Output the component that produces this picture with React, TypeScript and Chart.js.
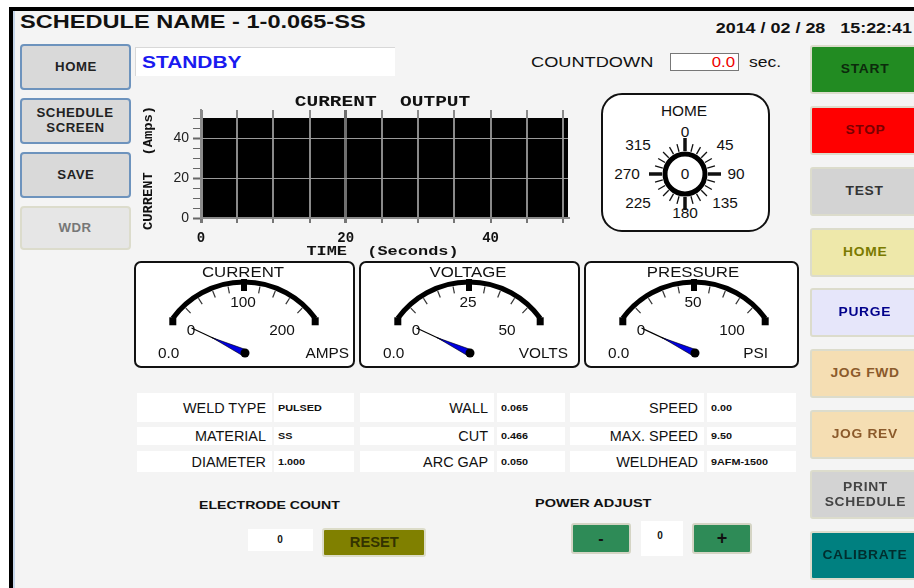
import React, { useEffect, useRef } from 'react';
import { Chart, registerables } from 'chart.js';

Chart.register(...registerables);

// ---------- chart data ----------
const chartTitle = 'CURRENT  OUTPUT';
const xAxisTitle = 'TIME  (Seconds)';
const yAxisTitle = 'CURRENT  (Amps)';
const timeMin = 0;
const timeMax = 50.7;
const currentMin = 0;
const currentMax = 54;
const currentPanelMax = 50;
const tickStep = 5;
const timeLabelTicks = [0, 20, 40];
const currentLabelTicks = [0, 20, 40];
const timeSeconds: number[] = [];
const currentAmps: number[] = [];

// ---------- gauges ----------
const gaugeNames = ['CURRENT', 'VOLTAGE', 'PRESSURE'];
const gaugeUnits = ['AMPS', 'VOLTS', 'PSI'];
const gaugeMax = [200, 50, 100];
const gaugeValues = [0, 0, 0];
const dialLabels = [0, 45, 90, 135, 180, 225, 270, 315];
const dialValue = 0;

// ---------- info table ----------
const infoLabels = ['WELD TYPE', 'MATERIAL', 'DIAMETER', 'WALL', 'CUT', 'ARC GAP', 'SPEED', 'MAX. SPEED', 'WELDHEAD'];
const infoValues = ['PULSED', 'SS', '1.000', '0.065', '0.466', '0.050', '0.00', '9.50', '9AFM-1500'];

const leftButtons = ['HOME', 'SCHEDULE\nSCREEN', 'SAVE', 'WDR'];
const rightButtons = ['START', 'STOP', 'TEST', 'HOME', 'PURGE', 'JOG FWD', 'JOG REV', 'PRINT\nSCHEDULE', 'CALIBRATE'];

const SANS = '"Liberation Sans", Arial, sans-serif';
const MONO = '"Liberation Mono", "Courier New", monospace';

type TP = {
  x: number; y: number; text: string; size: number; bold?: boolean; color?: string;
  sx?: number; align?: 'left' | 'center' | 'right'; family?: string;
};
function T({ x, y, text, size, bold, color = '#111', sx = 1, align = 'left', family = SANS }: TP) {
  const tx = align === 'left' ? '0' : align === 'center' ? '-50%' : '-100%';
  const origin = align === 'left' ? 'left center' : align === 'center' ? 'center center' : 'right center';
  return (
    <span
      style={{
        position: 'absolute', left: x, top: y, whiteSpace: 'pre', fontFamily: family, fontSize: size,
        fontWeight: bold ? 700 : 400, color, lineHeight: 1,
        transform: `translate(${tx}, -50%) scaleX(${sx})`, transformOrigin: origin,
      }}
    >
      {text}
    </span>
  );
}

function Box({ l, t, w, h, style = {}, children }: any) {
  return (
    <div style={{ position: 'absolute', left: l, top: t, width: w, height: h, boxSizing: 'border-box', ...style }}>
      {children}
    </div>
  );
}

function Btn({ l, t, w, h, bg, border, color, text, size = 12, sx = 1.2, radius = 3, ls = 0 }: any) {
  const lines = String(text).split('\n');
  return (
    <Box
      l={l} t={t} w={w} h={h}
      style={{
        background: bg, border: `2px solid ${border}`, borderRadius: radius,
        display: 'flex', alignItems: 'center', justifyContent: 'center', flexDirection: 'column',
      }}
    >
      {lines.map((ln, i) => (
        <span
          key={i}
          style={{
            fontFamily: SANS, fontWeight: 700, fontSize: size, color, lineHeight: 1.25, letterSpacing: ls,
            whiteSpace: 'pre', transform: `scaleX(${sx})`, display: 'block',
          }}
        >
          {ln}
        </span>
      ))}
    </Box>
  );
}

function drawStretched(ctx: CanvasRenderingContext2D, text: string, x: number, y: number, rot: number, sx: number, font: string) {
  ctx.save();
  ctx.translate(x, y);
  ctx.rotate(rot);
  ctx.scale(sx, 1);
  ctx.font = font;
  ctx.fillStyle = '#111';
  ctx.textAlign = 'center';
  ctx.textBaseline = 'middle';
  ctx.fillText(text, 0, 0);
  ctx.restore();
}

function CurrentChart() {
  const ref = useRef<HTMLCanvasElement>(null);
  useEffect(() => {
    const canvas = ref.current;
    if (!canvas) return;
    const blackPanel = {
      id: 'blackPanel',
      beforeDraw(chart: any) {
        const { ctx, chartArea: a, scales } = chart;
        const top = scales.y.getPixelForValue(currentPanelMax);
        const bottom = scales.y.getPixelForValue(currentMin);
        ctx.save();
        ctx.fillStyle = '#000';
        ctx.fillRect(a.left, top, a.right - a.left, bottom - top);
        ctx.restore();
      },
    };
    const stretchedTitles = {
      id: 'stretchedTitles',
      afterDraw(chart: any) {
        const { ctx, chartArea: a } = chart;
        const cx = (a.left + a.right) / 2 - 2;
        drawStretched(ctx, chartTitle, cx, 14, 0, 1.3, `bold 15px ${MONO}`);
        drawStretched(ctx, xAxisTitle, cx, 164, 0, 1.3, `bold 13px ${MONO}`);
        drawStretched(ctx, yAxisTitle, 15, 80, -Math.PI / 2, 1.15, `bold 12px ${MONO}`);
      },
    };
    const chart = new Chart(canvas, {
      type: 'line',
      data: {
        datasets: [
          {
            label: 'Current',
            data: timeSeconds.map((t, i) => ({ x: t, y: currentAmps[i] })),
            borderColor: '#00ff00',
            borderWidth: 2,
            pointRadius: 0,
          },
        ],
      },
      options: {
        responsive: false,
        animation: false,
        devicePixelRatio: 1,
        layout: { padding: { top: 22, right: 2, left: 0, bottom: 0 } },
        plugins: { legend: { display: false }, tooltip: { enabled: false }, title: { display: false } },
        scales: {
          x: {
            type: 'linear',
            min: timeMin,
            max: timeMax,
            afterFit: (s: any) => { s.height = 44; },
            ticks: {
              stepSize: tickStep,
              includeBounds: false,
              autoSkip: false,
              maxRotation: 0,
              padding: 7,
              color: '#111',
              font: { family: MONO, size: 14, weight: 'bold' },
              callback: (v: any) => (timeLabelTicks.includes(Number(v)) ? String(v) : ''),
            },
            grid: {
              color: (c: any) => (c.tick && c.tick.value === 20 ? '#6f6f6f' : '#8a8a8a'),
              lineWidth: (c: any) => (c.tick && (c.tick.value === 20 || c.tick.value === 0) ? 3 : 2),
              tickLength: 5,
              tickColor: '#777',
            },
            border: { display: true, color: '#8a8a8a', width: 2 },
          },
          y: {
            type: 'linear',
            min: currentMin,
            max: currentMax,
            afterFit: (s: any) => { s.width = 67; },
            ticks: {
              stepSize: tickStep,
              includeBounds: false,
              autoSkip: false,
              padding: 4,
              color: '#222',
              font: { family: SANS, size: 14 },
              callback: (v: any) => (currentLabelTicks.includes(Number(v)) ? String(v) : ''),
            },
            grid: {
              color: (c: any) => {
                const v = c.tick ? c.tick.value : -1;
                if (v === 20 || v === 40) return '#9a9a9a';
                if (v === 0) return '#8a8a8a';
                return 'rgba(0,0,0,0)';
              },
              lineWidth: 1,
              tickLength: 8,
              tickColor: '#666',
              tickWidth: (c: any) => (c.tick && currentLabelTicks.includes(c.tick.value) ? 2 : 1),
            },
            border: { display: true, color: '#8a8a8a', width: 2 },
          },
        },
      },
      plugins: [blackPanel, stretchedTitles],
    } as any);
    return () => chart.destroy();
  }, []);
  return (
    <canvas
      ref={ref}
      width={436}
      height={174}
      style={{ position: 'absolute', left: 134, top: 88, width: 436, height: 174 }}
    />
  );
}

function Gauge({ left, width, idx, unitRight }: any) {
  const cx = 110, cy = 109, r = 88;
  const pt = (deg: number, rad: number) => {
    const a = (deg * Math.PI) / 180;
    return [cx + rad * Math.sin(a), cy - rad * Math.cos(a)];
  };
  const [lx, ly] = pt(-54, r);
  const [rx, ry] = pt(54, r);
  const ticks = [];
  for (let i = -4; i <= 4; i++) {
    if (i === 0) continue;
    const [x1, y1] = pt(i * 10.8, r - 3);
    const [x2, y2] = pt(i * 10.8, r - 10);
    ticks.push(<line key={i} x1={x1} y1={y1} x2={x2} y2={y2} stroke="#333" strokeWidth={1.2} />);
  }
  const max = gaugeMax[idx];
  const v = gaugeValues[idx];
  const hx = 111, hy = 92, L = 59;
  const th = ((-65 + (130 * v) / max) * Math.PI) / 180;
  const tipX = hx + L * Math.sin(th), tipY = hy - L * Math.cos(th);
  const ux = Math.sin(th), uy = -Math.cos(th);
  const midX = hx + L * 0.62 * ux, midY = hy + L * 0.62 * uy;
  const px = -uy, py = ux;
  const needle = `${midX},${midY} ${hx + 3.5 * px},${hy + 3.5 * py} ${hx - 3.5 * px},${hy - 3.5 * py}`;
  const txt = (s: string, x: number, y: number, size: number, sx: number, anchor = 'middle') => (
    <text
      transform={`translate(${x},${y}) scale(${sx},1)`}
      textAnchor={anchor as any}
      dominantBaseline="central"
      fontFamily={SANS}
      fontSize={size}
      fill="#111"
    >
      {s}
    </text>
  );
  return (
    <svg style={{ position: 'absolute', left, top: 261 }} width={width} height={107}>
      <rect x={1} y={1} width={width - 2} height={105} rx={6} fill="#fff" stroke="#111" strokeWidth={2} />
      {txt(gaugeNames[idx], 109, 11, 15, 1.12)}
      <path d={`M ${lx} ${ly} A ${r} ${r} 0 0 1 ${rx} ${ry}`} fill="none" stroke="#000" strokeWidth={5} />
      <rect x={lx - 3.5} y={ly - 1} width={7} height={8} fill="#000" />
      <rect x={rx - 3.5} y={ry - 1} width={7} height={8} fill="#000" />
      <rect x={cx - 3} y={cy - r - 3} width={6} height={12} fill="#000" />
      {ticks}
      {txt(String(max / 2), 109, 41, 14, 1.1)}
      {txt('0', 57, 69, 14, 1.1)}
      {txt(String(max), 148, 69, 14, 1.1)}
      {txt(v.toFixed(1), 24, 92, 14, 1.1, 'start')}
      {txt(gaugeUnits[idx], unitRight, 92, 14, 1.1, 'end')}
      <line x1={tipX} y1={tipY} x2={hx} y2={hy} stroke="#000" strokeWidth={1.2} />
      <polygon points={needle} fill="#0000e0" stroke="#000" strokeWidth={0.6} />
      <circle cx={hx} cy={hy} r={4.5} fill="#000" />
    </svg>
  );
}

function Dial() {
  const cx = 84, cy = 81;
  const pt = (deg: number, rad: number) => {
    const a = (deg * Math.PI) / 180;
    return [cx + rad * Math.sin(a), cy - rad * Math.cos(a)];
  };
  const ticks = [];
  for (let d = 0; d < 360; d += 15) {
    const major = d % 90 === 0;
    const [x1, y1] = pt(d, 23);
    const [x2, y2] = pt(d, major ? 36 : 31);
    ticks.push(<line key={d} x1={x1} y1={y1} x2={x2} y2={y2} stroke="#111" strokeWidth={major ? 3.5 : 1.3} />);
  }
  const labelPos: Record<number, [number, number]> = {
    0: [84, 39], 45: [124, 52], 90: [135, 81], 135: [124, 110],
    180: [84, 120], 225: [37, 110], 270: [26, 81], 315: [37, 52],
  };
  const txt = (s: string, x: number, y: number) => (
    <text
      key={s + x}
      transform={`translate(${x},${y}) scale(1.1,1)`}
      textAnchor="middle"
      dominantBaseline="central"
      fontFamily={SANS}
      fontSize={14}
      fill="#111"
    >
      {s}
    </text>
  );
  return (
    <svg style={{ position: 'absolute', left: 601, top: 93 }} width={169} height={139}>
      <rect x={1} y={1} width={167} height={137} rx={20} fill="#fff" stroke="#111" strokeWidth={2} />
      {txt('HOME', 83, 18)}
      {ticks}
      <circle cx={cx} cy={cy} r={20} fill="#fff" stroke="#000" strokeWidth={5} />
      {txt(String(dialValue), cx, cy)}
      {dialLabels.map((d) => txt(String(d), labelPos[d][0], labelPos[d][1]))}
    </svg>
  );
}

export default function App() {
  const rowTops = [393, 427, 451];
  const rowHeights = [29, 18, 21];
  const cols = [
    { lx: 137, lw: 135, vx: 274, vw: 80 },
    { lx: 360, lw: 134, vx: 497, vw: 68 },
    { lx: 570, lw: 134, vx: 707, vw: 89 },
  ];
  const leftTops = [44, 98, 152, 206];
  const rightTops = [45, 106, 167, 228, 288, 349, 410, 470, 531];
  const rightStyles = [
    ['#228b22', '#0c2a0c'], ['#ff0000', '#7a0000'], ['#d3d3d3', '#333'], ['#eee8aa', '#7a7a00'],
    ['#e6e6fa', '#00008b'], ['#f5deb3', '#8b5a2b'], ['#f5deb3', '#8b5a2b'], ['#d3d3d3', '#444'], ['#008080', '#002e2e'],
  ];
  return (
    <div style={{ position: 'absolute', left: 0, top: 0, width: 914, height: 588, overflow: 'hidden', background: '#fff' }}>
      <Box l={9} t={7} w={905} h={4} style={{ background: '#000' }} />
      <Box l={9} t={7} w={4} h={581} style={{ background: '#000' }} />
      <Box l={13} t={11} w={2} h={577} style={{ background: '#c6d6ea' }} />
      <Box l={15} t={11} w={899} h={577} style={{ background: '#f4f4f4' }} />

      <T x={20} y={21} text="SCHEDULE NAME - 1-0.065-SS" size={19} bold sx={1.24} />
      <T x={912} y={28} text="2014 / 02 / 28   15:22:41" size={14} bold sx={1.28} align="right" />

      {leftButtons.map((b, i) => (
        <Btn
          key={b} l={20} t={leftTops[i]} w={111} h={i === 3 ? 44 : 46}
          bg={i === 3 ? '#e6e6e6' : '#d9d9d9'} border={i === 3 ? '#dcdccc' : '#6d93bd'}
          color={i === 3 ? '#777' : '#222'} text={b} size={12} sx={1.1} ls={0.5} radius={4}
        />
      ))}

      <Box l={135} t={47} w={260} h={29} style={{ background: '#fff', borderTop: '1px solid #d8d8d8', borderLeft: '1px solid #d8d8d8' }} />
      <T x={142} y={62} text="STANDBY" size={17} bold color="#1a1af0" sx={1.23} />
      <T x={531} y={62} text="COUNTDOWN" size={14} sx={1.3} />
      <Box l={670} t={53} w={69} h={18} style={{ background: '#fff', border: '1px solid #777' }} />
      <T x={735} y={62} text="0.0" size={14} color="#ee0000" sx={1.2} align="right" />
      <T x={749} y={62} text="sec." size={14} sx={1.25} />

      <CurrentChart />

      <Dial />
      <Gauge left={134} width={221} idx={0} unitRight={215} />
      <Gauge left={359} width={221} idx={1} unitRight={209} />
      <Gauge left={584} width={215} idx={2} unitRight={184} />

      {cols.map((c, ci) =>
        rowTops.map((rt, ri) => {
          const k = ci * 3 + ri;
          const cy = rt + rowHeights[ri] / 2;
          return (
            <React.Fragment key={k}>
              <Box l={c.lx} t={rt} w={c.lw} h={rowHeights[ri]} style={{ background: '#fff' }} />
              <Box l={c.vx} t={rt} w={c.vw} h={rowHeights[ri]} style={{ background: '#fff' }} />
              <T x={c.lx + c.lw - 6} y={cy} text={infoLabels[k]} size={14} sx={1.03} align="right" />
              <T x={c.vx + 4} y={cy} text={infoValues[k]} size={9} bold sx={1.2} />
            </React.Fragment>
          );
        })
      )}

      <T x={199} y={505} text="ELECTRODE COUNT" size={11} bold sx={1.28} />
      <Box l={248} t={529} w={65} h={22} style={{ background: '#fff' }} />
      <T x={280} y={540} text="0" size={10} bold align="center" />
      <Btn l={322} t={528} w={104} h={29} bg="#808000" border="#dcdcc8" color="#333300" text="RESET" size={14} sx={1.05} />

      <T x={535} y={503} text="POWER ADJUST" size={11} bold sx={1.32} />
      <Btn l={571} t={523} w={60} h={31} bg="#2e8b57" border="#d4d4c4" color="#111" text="-" size={16} sx={1} />
      <Box l={641} t={521} w={42} h={35} style={{ background: '#fff' }} />
      <T x={660} y={536} text="0" size={10} bold align="center" />
      <Btn l={692} t={523} w={60} h={31} bg="#2e8b57" border="#d4d4c4" color="#111" text="+" size={18} sx={1} />

      {rightButtons.map((b, i) => (
        <Btn
          key={b + i} l={810} t={rightTops[i]} w={110} h={49}
          bg={rightStyles[i][0]} border="#dcdccc" color={rightStyles[i][1]} text={b} size={12} sx={1.15} ls={0.6}
        />
      ))}
    </div>
  );
}
